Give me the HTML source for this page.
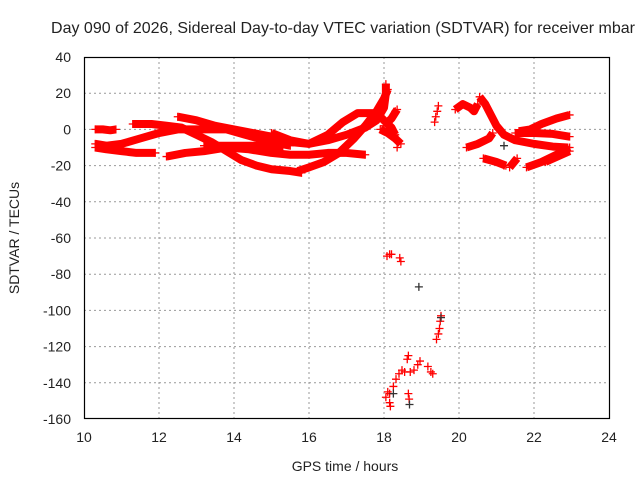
<!DOCTYPE html>
<html><head><meta charset="utf-8"><style>
html,body{margin:0;padding:0;background:#fff;}
svg text{font-family:"Liberation Sans",sans-serif;fill:#222;}
</style></head><body>
<svg id="chart" width="640" height="480" xmlns="http://www.w3.org/2000/svg">
<rect width="640" height="480" fill="#fff"/>
<text x="343" y="33" font-size="16" text-anchor="middle">Day 090 of 2026, Sidereal Day-to-day VTEC variation (SDTVAR) for receiver mbar</text>
<text x="345" y="471" font-size="14" text-anchor="middle">GPS time / hours</text>
<text transform="translate(19,238) rotate(-90)" font-size="14" text-anchor="middle">SDTVAR / TECUs</text>
<g id="grid"></g>
<g id="marks"></g>
<rect x="84.5" y="57.5" width="525" height="361" fill="none" stroke="#000" stroke-width="1.2"/>
<g id="ticks"></g>
</svg>
<script>
const xTicks=[10,12,14,16,18,20,22,24];
const yTicks=[40,20,0,-20,-40,-60,-80,-100,-120,-140,-160];
const bandTracks=[
[[10.3,0],[10.5,0],[10.7,-0.5],[10.85,0]],
[[10.3,-10],[10.6,-11],[11,-12],[11.4,-13],[11.9,-13]],
[[10.3,-8],[10.6,-9],[11,-8],[11.5,-5],[12,-2],[12.5,0],[13,0],[13.8,0],[14.3,-3],[15,-7],[15.5,-9]],
[[11.3,3],[11.8,3],[12.2,2],[12.6,1],[13,-3],[13.4,-7],[13.8,-12],[14.2,-17],[14.6,-20],[15,-22],[15.5,-23],[15.8,-24]],
[[12.5,7],[13,5],[13.5,2],[14,0],[14.5,-2],[15,-4],[15.5,-7],[16,-8],[16.5,-6],[17,-3],[17.5,1],[17.8,5],[18,12],[18.05,20],[18.05,25]],
[[12.2,-15],[12.7,-13],[13.2,-12],[13.8,-10],[14.4,-11],[15,-13],[15.5,-14],[16,-14],[16.5,-13],[17,-13],[17.5,-14]],
[[13.2,-9],[13.8,-9],[14.5,-9],[15.3,-9.5]],
[[15.7,-23],[16,-21],[16.4,-18],[16.8,-13],[17.2,-5],[17.5,2],[17.8,10],[18,17],[18.1,22]],
[[15,-2],[15.5,-6],[16,-8],[16.5,-3],[16.9,4],[17.3,9],[17.8,9],[18,5],[18.2,1],[18.3,-3]],
[[17.9,0],[18.1,-2],[18.3,-5],[18.45,-8]],
[[18.0,2],[18.2,6],[18.35,11]],
[[19.9,11],[20.1,14],[20.3,12],[20.4,10],[20.5,14]],
[[20.55,18],[20.7,14],[20.85,8],[21,2],[21.2,-3],[21.5,-6],[22,-8],[22.5,-9.5],[22.9,-10]],
[[20.2,-10],[20.5,-8],[20.8,-5],[20.9,-2]],
[[20.65,-16],[21,-18],[21.25,-20]],
[[21.35,-21],[21.55,-16]],
[[21.6,-1],[21.9,0],[22.2,3],[22.6,6],[22.95,8]],
[[21.5,-2],[22,-2],[22.5,-2.5],[22.95,-4]],
[[21.8,-21],[22.2,-18],[22.6,-14],[22.95,-10]],
[[22.3,-18],[22.95,-12]]
];
const redPoints=[[19.35,4],[19.38,7],[19.42,10],[19.45,13],[18.08,-70],[18.15,-69],[18.2,-69],[18.42,-71],[18.45,-73],
[19.4,-116],[19.45,-113],[19.48,-110],[19.5,-106],[19.52,-103],[18.62,-127],[18.65,-125],
[18.05,-148],[18.15,-146],[18.25,-142],[18.32,-138],[18.4,-135],[18.48,-133],
[18.55,-134],[18.7,-134],[18.8,-133],[18.9,-130],[18.96,-128],[19.17,-131],[19.25,-134],[19.3,-135],
[18.15,-151],[18.17,-153],[18.65,-146],[18.67,-149],[18.1,-145],[18.35,-10],[18.3,10],[21.2,-20]];
const blackPoints=[[18.93,-87],[18.68,-152],[19.52,-104],[21.2,-9],[18.25,-146]];
const X0=84,X1=609,Y0=419,Y1=57,xmin=10,xmax=24,ymin=-160,ymax=40;
const xs=v=>X0+(v-xmin)/(xmax-xmin)*(X1-X0);
const ys=v=>Y0-(v-ymin)/(ymax-ymin)*(Y0-Y1);
const NS='http://www.w3.org/2000/svg';
function mk(tag,parent){const e=document.createElementNS(NS,tag);parent.appendChild(e);return e;}
const grid=document.getElementById('grid'),ticks=document.getElementById('ticks'),marks=document.getElementById('marks');
xTicks.forEach(t=>{const x=xs(t);
 if(t>xmin&&t<xmax){const l=mk('line',grid);l.setAttribute('x1',x);l.setAttribute('x2',x);l.setAttribute('y1',Y1);l.setAttribute('y2',Y0);l.setAttribute('stroke','#999');l.setAttribute('stroke-dasharray','2,3');
 
 }
 const tx=mk('text',ticks);tx.setAttribute('x',x);tx.setAttribute('y',442);tx.setAttribute('font-size','14');tx.setAttribute('text-anchor','middle');tx.textContent=t;
 
 
});
yTicks.forEach(t=>{const y=ys(t);
 if(t>ymin&&t<ymax){const l=mk('line',grid);l.setAttribute('x1',X0);l.setAttribute('x2',X1);l.setAttribute('y1',y);l.setAttribute('y2',y);l.setAttribute('stroke','#999');l.setAttribute('stroke-dasharray','2,3');
 
 }
 const tx=mk('text',ticks);tx.setAttribute('x',71);tx.setAttribute('y',y+5);tx.setAttribute('font-size','14');tx.setAttribute('text-anchor','end');tx.textContent=t;
 
 
});
function plus(p,col,g){const x=xs(p[0]),y=ys(p[1]);const pa=mk('path',g);pa.setAttribute('d',`M${x-4},${y}H${x+4}M${x},${y-4}V${y+4}`);pa.setAttribute('stroke',col);pa.setAttribute('stroke-width','1.3');
 
 }
bandTracks.forEach(tr=>{const g=mk('g',marks);
 
 
 const pl=mk('polyline',g);pl.setAttribute('points',tr.map(p=>xs(p[0])+','+ys(p[1])).join(' '));pl.setAttribute('fill','none');pl.setAttribute('stroke','#f00');pl.setAttribute('stroke-width','8');pl.setAttribute('stroke-linejoin','round');
 
 
 plus(tr[0],'#f00',g);plus(tr[tr.length-1],'#f00',g);
});
redPoints.forEach(p=>plus(p,'#f00',marks));
blackPoints.forEach(p=>plus(p,'#333',marks));
</script>
</body></html>
